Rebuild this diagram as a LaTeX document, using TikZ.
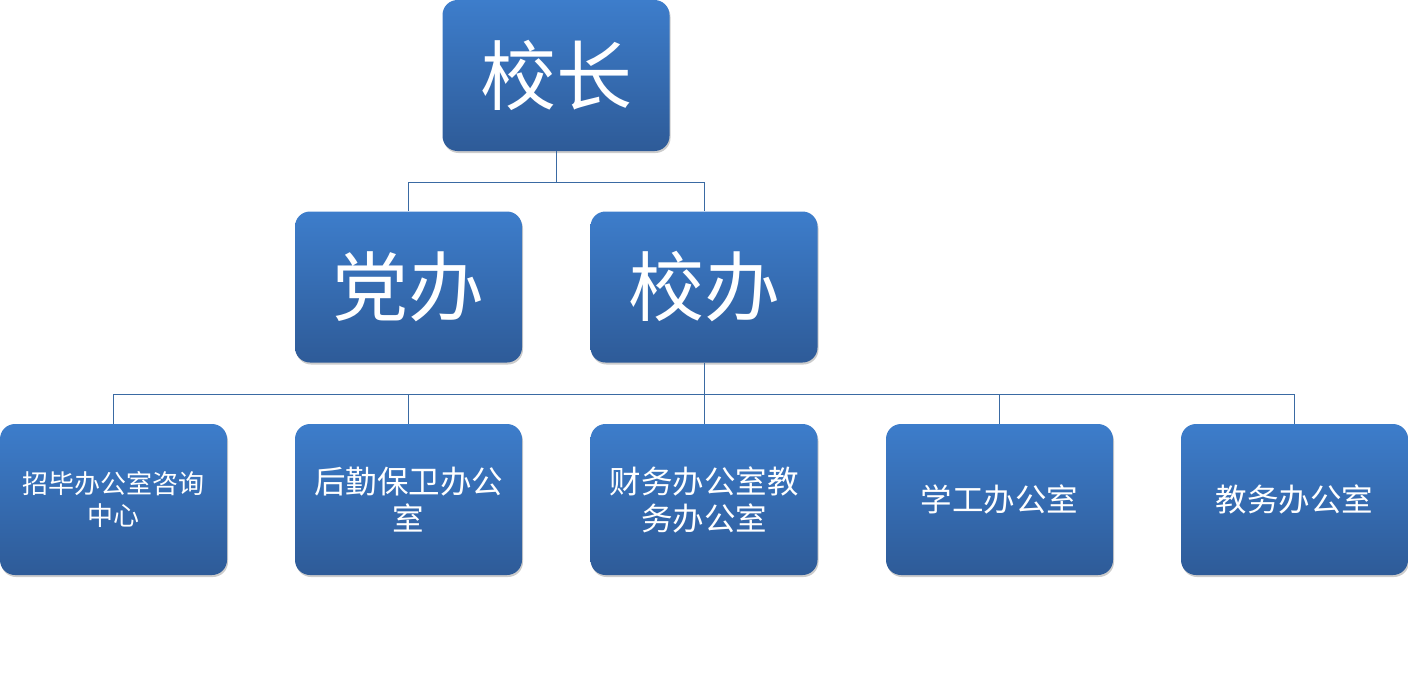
\documentclass[tikz,border=0pt]{standalone}
\usepackage{fontspec}
\newfontfamily\cjk{Noto Sans CJK SC}
\usetikzlibrary{shadows}
\definecolor{boxtop}{HTML}{3D7DCB}
\definecolor{boxbot}{HTML}{2E5B98}
\definecolor{linkc}{HTML}{3A6AA3}
\tikzset{
  orgbox/.style={rounded corners=15pt, top color=boxtop, bottom color=boxbot, draw=none,
    minimum width=227pt, minimum height=151pt, inner sep=0pt, text=white, align=center,
    font=\cjk, drop shadow={shadow xshift=1pt, shadow yshift=-2pt, opacity=0.2, fill=black}},
  bigtxt/.style={font=\cjk\fontsize{76pt}{80pt}\selectfont},
  smalltxt/.style={font=\cjk\fontsize{31.5pt}{37pt}\selectfont},
  tinytxt/.style={font=\cjk\fontsize{26pt}{32pt}\selectfont},
  link/.style={draw=linkc, line width=1pt}
}
\begin{document}
\begin{tikzpicture}[x=1pt,y=-1pt]
\useasboundingbox (0,0) rectangle (1408,693);
\node[orgbox,bigtxt] (head) at (556,75.5) {校长};
\node[orgbox,bigtxt] (party) at (408.5,287) {党办};
\node[orgbox,bigtxt] (office) at (704,287) {校办};
\node[orgbox,tinytxt] (b1) at (113.5,499.5) {招毕办公室咨询\\中心};
\node[orgbox,smalltxt] (b2) at (408.5,499.5) {后勤保卫办公\\室};
\node[orgbox,smalltxt] (b3) at (704,499.5) {财务办公室教\\务办公室};
\node[orgbox,smalltxt] (b4) at (999.5,499.5) {学工办公室};
\node[orgbox,smalltxt] (b5) at (1294.5,499.5) {教务办公室};
\coordinate (j1) at (556,182);
\coordinate (j2) at (704,394);
\draw[link] (head.south) -- (j1) -| (party.north);
\draw[link] (j1) -| (office.north);
\draw[link] (office.south) -- (j2);
\foreach \b in {b1,b2,b3,b4,b5} { \draw[link] (j2) -| (\b.north); }
\end{tikzpicture}
\end{document}
